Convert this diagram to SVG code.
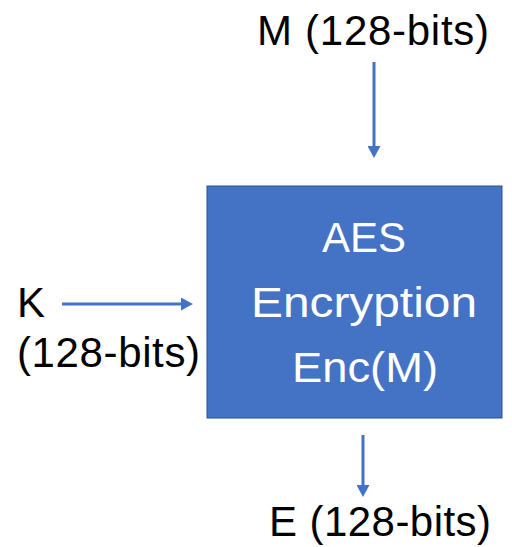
<svg xmlns="http://www.w3.org/2000/svg" width="512" height="547" viewBox="0 0 512 547">
  <style>
    .lbl { font-family: "Liberation Sans", Arial, sans-serif; font-size: 42px; fill: #000000; }
    .in { font-family: "Liberation Sans", Arial, sans-serif; font-size: 42px; fill: #FFFFFF; text-anchor: middle; }
    .conn { stroke: #4472C4; stroke-width: 3; fill: none; }
  </style>
  <defs>
    <marker id="ah" viewBox="0 0 12 13" refX="0" refY="6.5" markerWidth="12" markerHeight="13" markerUnits="userSpaceOnUse" orient="auto">
      <path d="M0,0 L12,6.5 L0,13 z" fill="#4472C4"/>
    </marker>
  </defs>
  <rect width="512" height="547" fill="#FFFFFF"/>
  <g id="aes">
    <rect x="207" y="186" width="295" height="232" fill="#4472C4" stroke="#2F528F" stroke-width="1"/>
    <text class="in" x="364" y="252">AES</text>
    <text class="in" x="364" y="317" textLength="226" lengthAdjust="spacingAndGlyphs">Encryption</text>
    <text class="in" x="365" y="382" textLength="146" lengthAdjust="spacingAndGlyphs">Enc(M)</text>
  </g>
  <g id="m-label">
    <text class="lbl" x="257" y="45" textLength="232">M (128-bits)</text>
  </g>
  <g id="k-label">
    <text class="lbl" x="17" y="317">K</text>
    <text class="lbl" x="17" y="367" textLength="183">(128-bits)</text>
  </g>
  <g id="e-label">
    <text class="lbl" x="269" y="536" textLength="222">E (128-bits)</text>
  </g>
  <g id="connectors">
    <line class="conn" x1="374" y1="62" x2="374" y2="146" marker-end="url(#ah)"/>
    <line class="conn" x1="62" y1="304" x2="181" y2="304" marker-end="url(#ah)"/>
    <line class="conn" x1="363" y1="435" x2="363" y2="485" marker-end="url(#ah)"/>
  </g>
</svg>
